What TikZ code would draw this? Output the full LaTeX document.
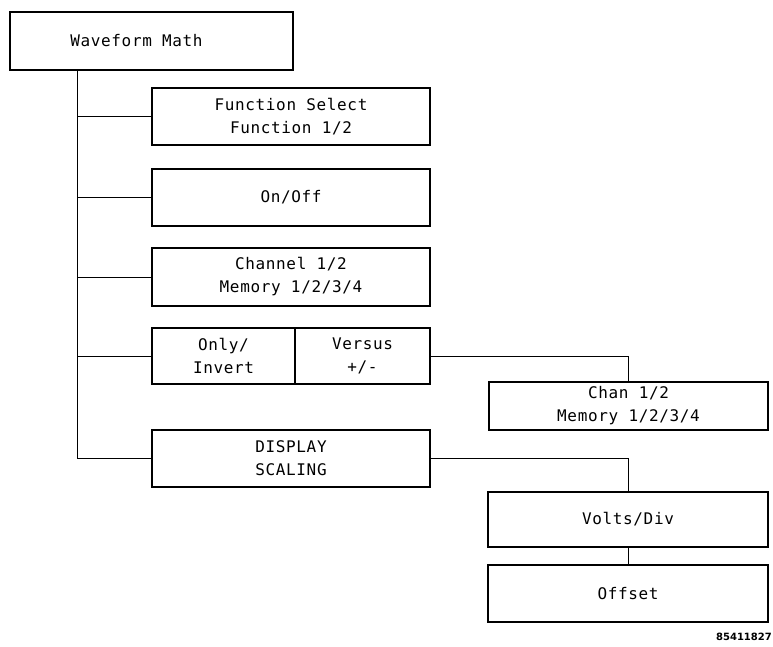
\documentclass[tikz,border=0pt]{standalone}
\usepackage{fontspec}
\newfontfamily\plotfont[LetterSpace=4]{DejaVu Sans Mono}
\newfontfamily\labfont{DejaVu Sans}
\begin{document}
\begin{tikzpicture}[x=1pt,y=-1pt,
  menubox/.style={draw=black, line width=2.2pt, rectangle, inner sep=0pt,
    align=center, font=\plotfont\fontsize{16}{23}\selectfont},
  link/.style={draw=black, line width=1pt}]
\useasboundingbox (0,0) rectangle (773,646);
\node[menubox, minimum width=283pt, minimum height=58pt] (wm) at (151.5,41) {Waveform Math\hspace*{30pt}};
\node[menubox, minimum width=278pt, minimum height=57pt] (fs) at (291,116.5) {Function Select\\Function 1/2};
\node[menubox, minimum width=278pt, minimum height=57pt] (onoff) at (291,197.5) {On/Off};
\node[menubox, minimum width=278pt, minimum height=58pt] (chan) at (291,277) {Channel 1/2\\Memory 1/2/3/4};
\node[menubox, minimum width=143pt, minimum height=56pt] (oi) at (223.5,356) {Only/\\Invert};
\node[menubox, minimum width=135pt, minimum height=56pt] (vs) at (362.5,356) {Versus\\+/-};
\node[menubox, minimum width=278pt, minimum height=57pt] (disp) at (291,458.5) {DISPLAY\\SCALING};
\node[menubox, minimum width=279pt, minimum height=48pt] (chan2) at (628.5,406) {Chan 1/2\\Memory 1/2/3/4};
\node[menubox, minimum width=280pt, minimum height=55pt] (volts) at (628,519.5) {Volts/Div};
\node[menubox, minimum width=280pt, minimum height=57pt] (offset) at (628,593.5) {Offset};
\node[anchor=east, inner sep=0pt, font=\labfont\bfseries\fontsize{10}{12}\selectfont] (code) at (772,637) {85411827};
\coordinate (tr) at (77,0);
\draw[link] (wm.south -| tr) |- (disp.west);
\draw[link] (tr |- fs.west) -- (fs.west);
\draw[link] (tr |- onoff.west) -- (onoff.west);
\draw[link] (tr |- chan.west) -- (chan.west);
\draw[link] (tr |- oi.west) -- (oi.west);
\draw[link] (vs.east) -| (chan2.north);
\draw[link] (disp.east) -| (volts.north);
\draw[link] (volts.south) -- (offset.north);
\end{tikzpicture}
\end{document}
